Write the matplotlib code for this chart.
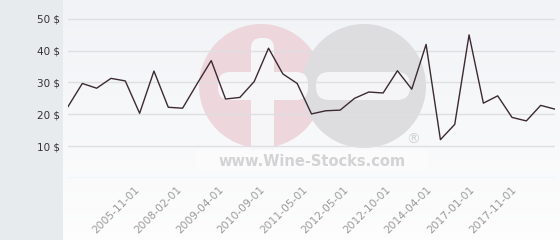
import matplotlib
matplotlib.use("Agg")
import matplotlib.pyplot as plt
from matplotlib.patches import Circle, FancyBboxPatch, Rectangle
import numpy as np

# ---- data ----
prices = [22.4, 29.7, 28.2, 31.3, 30.5, 20.3, 33.6, 22.2, 21.9, 29.5,
          36.9, 24.8, 25.3, 30.3, 40.8, 32.7, 29.7, 20.1, 21.1, 21.3,
          25.0, 27.0, 26.7, 33.7, 27.9, 42.0, 12.0, 16.8, 45.0, 23.5,
          25.8, 19.0, 17.9, 22.8, 21.6]
tick_labels = ["2005-11-01", "2008-02-01", "2009-04-01", "2010-09-01",
               "2011-05-01", "2012-05-01", "2012-10-01", "2014-04-01",
               "2017-01-01", "2017-11-01"]
tick_pos = [4.65, 7.55, 10.5, 13.4, 16.35, 19.25, 22.15, 25.05, 28.0, 30.95]
y_ticks = [10, 20, 30, 40, 50]

W, H = 560, 240
fig = plt.figure(figsize=(W / 100, H / 100), dpi=100)
fig.patch.set_facecolor("#e7ebee")

# panel background (right of sidebar)
bg = fig.add_axes([63 / W, 0, 1 - 63 / W, 1], zorder=-3)
bg.set_xlim(0, 1); bg.set_ylim(0, 1); bg.axis("off")
grad = np.linspace(0, 1, 100).reshape(-1, 1)
bg.imshow(grad, extent=[0, 1, 0, 1], aspect="auto", origin="lower",
          cmap=matplotlib.colors.LinearSegmentedColormap.from_list(
              "g", ["#fdfdfd", "#f1f3f6"]), zorder=0)

# watermark (pixel coordinates overlay)
wm = fig.add_axes([0, 0, 1, 1], zorder=-2)
wm.set_xlim(0, W); wm.set_ylim(H, 0); wm.axis("off")
wm.patch.set_alpha(0)
wm.add_patch(Circle((261, 86), 62, color="#edd6dc", lw=0))
wm.add_patch(Circle((364, 86), 62, color="#dddddf", lw=0))
wm.add_patch(FancyBboxPatch((251, 38), 23, 120, boxstyle="round,pad=0,rounding_size=10",
                            color="#f6f6f8", lw=0))
wm.add_patch(FancyBboxPatch((218, 72), 90, 28, boxstyle="round,pad=0,rounding_size=12",
                            color="#f6f6f8", lw=0))
wm.add_patch(FancyBboxPatch((316, 72), 94, 28, boxstyle="round,pad=0,rounding_size=13",
                            color="#f5f5f7", lw=0))
wm.add_patch(Rectangle((196, 150), 232, 22, color="#fbfbfc", lw=0))
wm.text(312, 161, "www.Wine-Stocks.com", ha="center", va="center",
        fontsize=10.5, fontweight="bold", color="#d3d3d5", family="DejaVu Sans")
wm.text(413, 140, "®", ha="center", va="center", fontsize=10, color="#d3d3d5")

x0, x1 = 68, 555
y_zero, y_top = 177.75, 177.75 - 55 * 3.175
ax = fig.add_axes([x0 / W, 1 - y_zero / H, (x1 - x0) / W, (y_zero - y_top) / H], zorder=0)
ax.set_facecolor("none")
ax.set_xlim(0, len(prices) - 1)
ax.set_ylim(0, 55)

for yv in y_ticks:
    ax.axhline(yv, color="#dfdfe2", lw=1, zorder=1)
ax.axhline(0, color="#dcdcdf", lw=1, zorder=1)

ax.plot(range(len(prices)), prices, color="#3b2a31", lw=1.0, zorder=3)

for s in ax.spines.values():
    s.set_visible(False)
ax.tick_params(length=0)
ax.set_yticks(y_ticks)
ax.set_yticklabels([f"{v} $" for v in y_ticks], fontsize=7.5, color="#333333")
ax.tick_params(axis="y", pad=6)
ax.set_xticks(tick_pos)
ax.set_xticklabels(tick_labels, rotation=45, ha="right", rotation_mode="anchor",
                   fontsize=7.7, color="#9a9a9a")
ax.tick_params(axis="x", pad=5)

fig.savefig("out.png", dpi=100)
